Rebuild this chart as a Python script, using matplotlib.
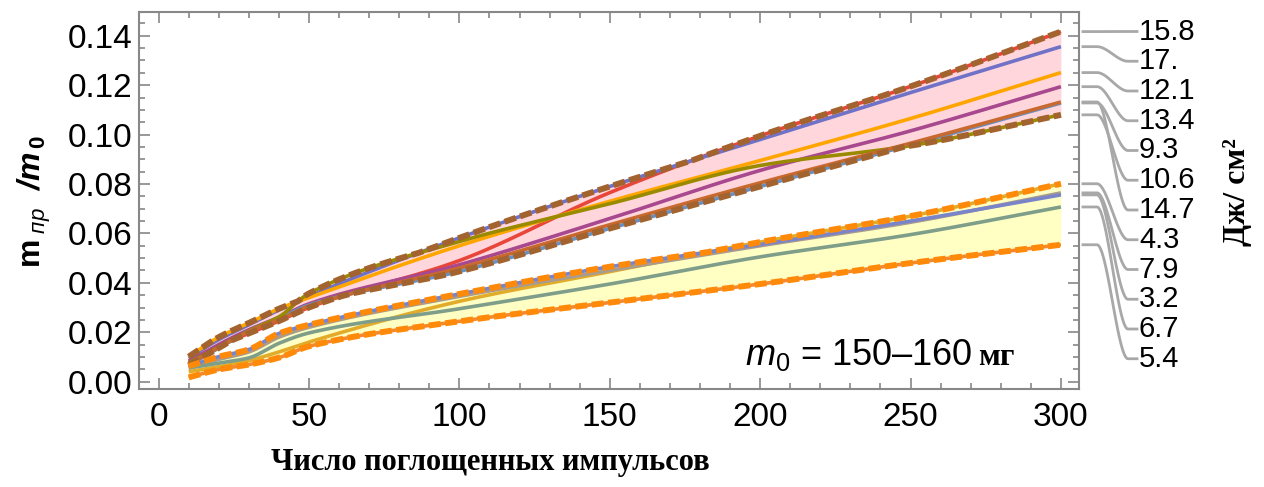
import numpy as np
import matplotlib
matplotlib.use('Agg')
import matplotlib.pyplot as plt
from matplotlib.ticker import MultipleLocator, FormatStrFormatter
from matplotlib.lines import Line2D

plt.rcParams['font.family'] = ['Liberation Sans', 'DejaVu Sans']
plt.rcParams['mathtext.fontset'] = 'custom'
plt.rcParams['mathtext.rm'] = 'Liberation Sans'
plt.rcParams['mathtext.it'] = 'Liberation Sans:italic'
plt.rcParams['mathtext.bf'] = 'Liberation Sans:bold'
plt.rcParams['mathtext.bfit'] = 'Liberation Sans:bold:italic'

# число поглощенных импульсов
x_imp = [10, 20, 30, 40, 50, 100, 150, 200, 250, 300]

# верхняя группа (розовая полоса)
u_158 = [0.0085, 0.0145, 0.0195, 0.0245, 0.0300, 0.0490, 0.0765, 0.0995, 0.1195, 0.1417]
u_170 = [0.0095, 0.0170, 0.0230, 0.0290, 0.0345, 0.0582, 0.0790, 0.0980, 0.1170, 0.1356]
u_121 = [0.0101, 0.0180, 0.0237, 0.0295, 0.0340, 0.0550, 0.0730, 0.0895, 0.1065, 0.1251]
u_134 = [0.0078, 0.0150, 0.0210, 0.0260, 0.0315, 0.0473, 0.0660, 0.0855, 0.1015, 0.1194]
u_93 = [0.0065, 0.0136, 0.0205, 0.0255, 0.0310, 0.0446, 0.0620, 0.0790, 0.0958, 0.1128]
u_106 = [0.0075, 0.0140, 0.0205, 0.0262, 0.0357, 0.0567, 0.0720, 0.0875, 0.0955, 0.1080]
u_147 = [0.0070, 0.0138, 0.0203, 0.0250, 0.0305, 0.0460, 0.0635, 0.0805, 0.0965, 0.1132]

# нижняя группа (желтая полоса)
l_43 = [0.0040, 0.0060, 0.0085, 0.0120, 0.0160, 0.0325, 0.0445, 0.0565, 0.0670, 0.0801]
l_79 = [0.0055, 0.0090, 0.0120, 0.0180, 0.0220, 0.0345, 0.0450, 0.0550, 0.0645, 0.0764]
l_32 = [0.0062, 0.0101, 0.0130, 0.0195, 0.0230, 0.0355, 0.0465, 0.0555, 0.0650, 0.0756]
l_67 = [0.0055, 0.0075, 0.0096, 0.0155, 0.0197, 0.0295, 0.0395, 0.0505, 0.0595, 0.0707]
l_54 = [0.0017, 0.0049, 0.0069, 0.0097, 0.0143, 0.0244, 0.0320, 0.0395, 0.0480, 0.0554]

upper = [u_158, u_170, u_121, u_134, u_93, u_106, u_147]
upper_labels = ['15.8', '17.', '12.1', '13.4', '9.3', '10.6', '14.7']
upper_colors = ['#E8463A', '#7072C8', '#FFA500', '#A8488E', '#6A90C0', '#9A8A00', '#C86A30']

lower = [l_43, l_79, l_32, l_67, l_54]
lower_labels = ['4.3', '7.9', '3.2', '6.7', '5.4']
lower_colors = ['#E2AC2A', '#A89C8E', '#7A84C8', '#7F9E8A', '#F5892F']


def pchip(xs, ys, xx):
    # монотонная кубическая интерполяция (Fritsch-Carlson)
    xs = np.asarray(xs, float)
    ys = np.asarray(ys, float)
    h = np.diff(xs)
    d = np.diff(ys) / h
    m = np.zeros_like(ys)
    m[0], m[-1] = d[0], d[-1]
    for k in range(1, len(xs) - 1):
        if d[k - 1] * d[k] > 0:
            w1 = 2 * h[k] + h[k - 1]
            w2 = h[k] + 2 * h[k - 1]
            m[k] = (w1 + w2) / (w1 / d[k - 1] + w2 / d[k])
    i = np.clip(np.searchsorted(xs, xx) - 1, 0, len(xs) - 2)
    hh = xs[i + 1] - xs[i]
    t = (xx - xs[i]) / hh
    h00 = 2 * t**3 - 3 * t**2 + 1
    h10 = t**3 - 2 * t**2 + t
    h01 = -2 * t**3 + 3 * t**2
    h11 = t**3 - t**2
    return h00 * ys[i] + h10 * hh * m[i] + h01 * ys[i + 1] + h11 * hh * m[i + 1]


xx = np.linspace(10, 300, 800)

fig = plt.figure(figsize=(12.64, 4.87), dpi=100)
ax = fig.add_axes([0.110, 0.2012, 0.7436, 0.7735])

for group, colors, fill_c, env_c in [(upper, upper_colors, '#FFD6DB', '#A3632E'),
                                     (lower, lower_colors, '#FFFFC4', '#FF8A0A')]:
    curves = np.array([pchip(x_imp, g, xx) for g in group])
    top = curves.max(axis=0)
    bot = curves.min(axis=0)
    ax.fill_between(xx, bot, top, color=fill_c, lw=0, zorder=1)
    for c, col in zip(curves, colors):
        ax.plot(xx, c, color=col, lw=2.6, zorder=2, solid_capstyle='butt')
    for env in (top, bot):
        ax.plot(xx, env, color=env_c, lw=4.3, ls=(0, (2.0, 0.75)), zorder=3)

ax.set_xlim(-6.5, 306)
ax.set_ylim(-0.003, 0.1495)
ax.xaxis.set_major_locator(MultipleLocator(50))
ax.xaxis.set_minor_locator(MultipleLocator(10))
ax.yaxis.set_major_locator(MultipleLocator(0.02))
ax.yaxis.set_minor_locator(MultipleLocator(0.005))
ax.yaxis.set_major_formatter(FormatStrFormatter('%.2f'))
ax.tick_params(which='both', direction='in', top=True, right=True, color='#888888', width=1.2)
ax.tick_params(which='major', length=8)
ax.tick_params(which='minor', length=4)
ax.tick_params(axis='y', labelsize=24, pad=5)
ax.tick_params(axis='x', labelsize=24, pad=9)
for sp in ax.spines.values():
    sp.set_color('#888888')
    sp.set_linewidth(1.5)

fig.text(0.027, 0.585, r'$\mathbf{m}_{\ \mathit{пр}}\ \ \mathbfit{/m}_{\,\mathbf{0}}$', rotation=90,
         ha='center', va='center', fontsize=23)
fig.text(0.388, 0.051, 'Число поглощенных импульсов', ha='center', va='center',
         fontsize=22, fontweight='bold', family=['Liberation Serif', 'DejaVu Serif'])
fig.text(0.979, 0.606, 'Дж/ см²', rotation=90, ha='center', va='center',
         fontsize=23, fontweight='bold', family=['Liberation Serif', 'DejaVu Serif'])

# подпись m0
fig.text(972 / 1264, 1 - 365 / 487, r'$m_0$ = 150–160', ha='right', va='baseline', fontsize=26)
fig.text(978 / 1264, 1 - 365 / 487, 'мг', ha='left', va='baseline', fontsize=23,
         fontweight='bold', family=['Liberation Serif', 'DejaVu Serif'])

# выноски справа
fig.canvas.draw()
H = 487
ends = [g[-1] for g in upper + lower]
labels = upper_labels + lower_labels
for k, (v, lab) in enumerate(zip(ends, labels)):
    y0 = H - ax.transData.transform((300, v))[1]
    y1 = 31.5 + 29.75 * k
    xa, xb, xc, xd = 1083, 1097, 1128, 1137
    t = np.linspace(0, 1, 60)
    s = t * t * (3 - 2 * t)
    px = np.concatenate([[xa], xb + (xc - xb) * t, [xd]])
    py = np.concatenate([[y0], y0 + (y1 - y0) * s, [y1]])
    fig.add_artist(Line2D(px / 1264, 1 - py / H, transform=fig.transFigure,
                          color='#A8A8A8', lw=2.0))
    fig.text(1139 / 1264, 1 - y1 / H, lab, ha='left', va='center', fontsize=21)

fig.savefig('out.png', dpi=100)
